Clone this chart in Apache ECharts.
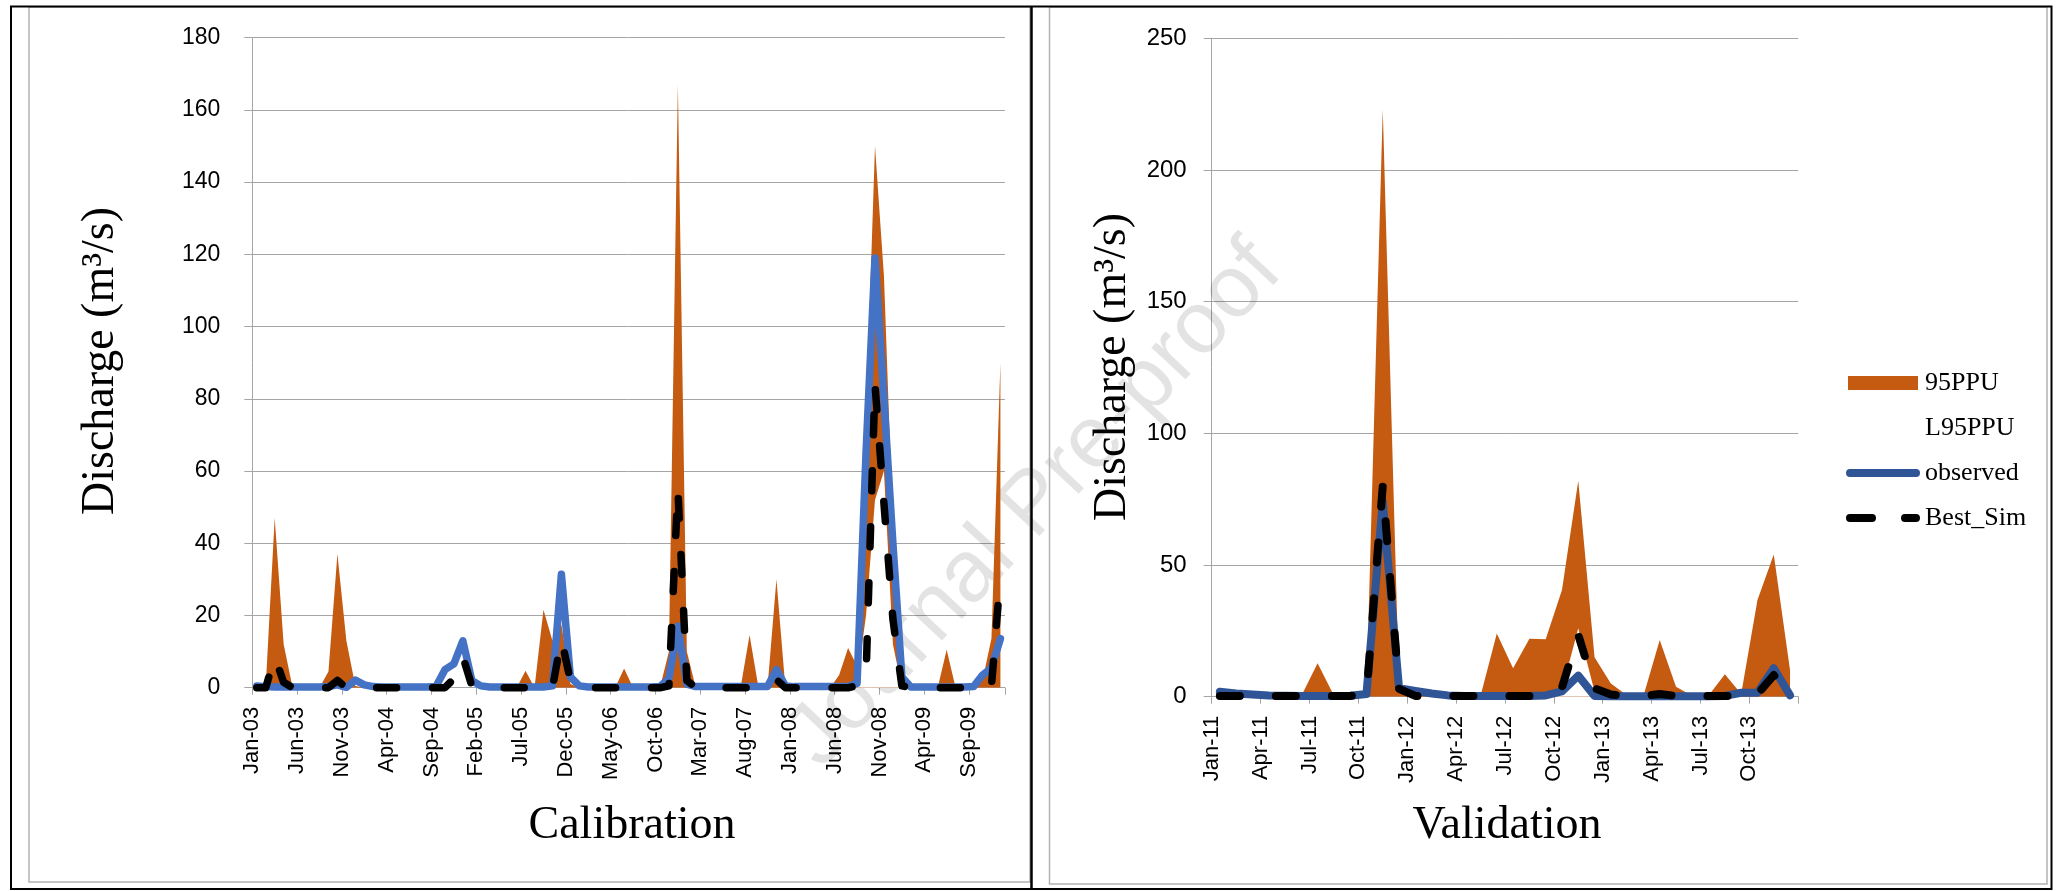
<!DOCTYPE html>
<html>
<head>
<meta charset="utf-8">
<script src="https://cdn.jsdelivr.net/npm/echarts@6/dist/echarts.min.js"></script>
<style>
  html, body { margin: 0; padding: 0; background: #ffffff; }
  #chart { width: 2060px; height: 891px; }
</style>
</head>
<body>
<div id="chart"></div>
<script>
// ---- Calibration period: monthly values, Jan-2003 .. Dec-2009 (84 months) ----
const calTickLabels = ['Jan-03','Jun-03','Nov-03','Apr-04','Sep-04','Feb-05','Jul-05','Dec-05','May-06',
  'Oct-06','Mar-07','Aug-07','Jan-08','Jun-08','Nov-08','Apr-09','Sep-09'];

const calU95 = [
  0, 0.5, 47, 12, 0, 0, 0, 0, 4.5, 37, 13, 0.5,          // 2003
  0, 0, 0, 0, 0, 0, 0, 0, 0, 0, 0, 0,                     // 2004
  0, 0, 0, 0, 0, 0, 4.7, 0, 21.6, 13, 17.5, 1,            // 2005
  0, 0, 0, 0, 0, 5.3, 0, 0, 0, 0, 10, 167,                // 2006
  10, 0, 0, 0, 0, 0, 0, 14.6, 0, 0, 30, 0,                // 2007
  0, 0, 0, 0, 0, 3.5, 11, 6, 75, 150, 114, 45,            // 2008
  2, 0, 0, 0, 0, 10.5, 0, 0, 0, 2, 13.6, 90               // 2009
];
const calL95 = [
  0, 0, 0, 0, 0, 0, 0, 0, 0, 0, 0, 0,
  0, 0, 0, 0, 0, 0, 0, 0, 0, 0, 0, 0,
  0, 0, 0, 0, 0, 0, 0, 0, 0, 0, 0, 0,
  0, 0, 0, 0, 0, 0, 0, 0, 0, 0, 0, 0,
  0, 0, 0, 0, 0, 0, 0, 0, 0, 0, 0, 0,
  0, 0, 0, 0, 0, 0, 0, 2, 20, 52, 60, 12,
  0, 0, 0, 0, 0, 0, 0, 0, 0, 0, 0, 0
];
const calObserved = [
  0.5, 0.3, 0.2, 0.2, 0.2, 0.2, 0.2, 0.2, 0.3, 0.8, 0.1, 2.1,
  0.8, 0.3, 0.2, 0.2, 0.2, 0.2, 0.2, 0.2, 0.3, 5, 6.6, 13,
  2, 0.5, 0.2, 0.2, 0.2, 0.2, 0.2, 0.2, 0.2, 0.5, 31.4, 3,
  0.5, 0.2, 0.2, 0.2, 0.2, 0.2, 0.2, 0.2, 0.2, 0.3, 2.5, 17,
  1, 0.3, 0.3, 0.3, 0.3, 0.3, 0.3, 0.3, 0.3, 0.3, 5, 0.5,
  0.3, 0.3, 0.3, 0.3, 0.3, 0.3, 0.3, 1.2, 65, 119, 80, 40,
  3, 0.2, 0.2, 0.2, 0.2, 0.2, 0.2, 0.2, 0.3, 3.5, 5.5, 13.6
];
const calBestSim = [
  0, 0, 8.6, 1.5, 0, 0, 0, 0, 0, 2, 0, 0,
  0, 0, 0, 0, 0, 0, 0, 0, 0, 0, 2.5, 8.6,
  0.5, 0, 0, 0, 0, 0, 0, 0, 0, 0, 13.5, 2,
  0, 0, 0, 0, 0, 0, 0, 0, 0, 0, 0.5, 55,
  2, 0, 0, 0, 0, 0, 0, 0, 0, 0, 2.2, 0,
  0, 0, 0, 0, 0, 0, 0, 0.5, 3, 84, 51, 19,
  0.5, 0, 0, 0, 0, 0, 0, 0, 0, 0, 0.5, 31
];

// ---- Validation period: monthly values, Jan-2011 .. Dec-2013 (36 months) ----
const valTickLabels = ['Jan-11','Apr-11','Jul-11','Oct-11','Jan-12','Apr-12','Jul-12','Oct-12',
  'Jan-13','Apr-13','Jul-13','Oct-13'];

const valU95 = [
  1, 0.5, 0.4, 0.3, 0.3, 0.3, 12.7, 0.5, 1.2, 2, 223, 4,
  2.5, 1.5, 0.5, 0.3, 0.3, 24, 10.8, 22, 21.8, 40.5, 82, 15,
  5, 0.5, 0.3, 21.5, 3.8, 0.3, 0.5, 8.5, 1, 36.7, 54, 10
];
const valL95 = [
  0, 0, 0, 0, 0, 0, 0, 0, 0, 0, 0, 0,
  0, 0, 0, 0, 0, 0, 0, 0, 0, 2.5, 26, 2,
  0, 0, 0, 0, 0, 0, 0, 0, 0, 0, 0, 0
];
const valObserved = [
  1.9, 1.2, 0.8, 0.5, 0.4, 0.3, 0.3, 0.3, 0.4, 1, 74, 3.2,
  2.2, 1.2, 0.5, 0.3, 0.3, 0.3, 0.3, 0.3, 0.5, 2, 8, 0.3,
  0.2, 0.2, 0.2, 0.3, 0.2, 0.2, 0.2, 0.3, 1.5, 1.5, 10.8, 0.5
];
const valBestSim = [
  0.3, 0.3, 0.3, 0.3, 0.3, 0.3, 0.3, 0.3, 0.3, 0.5, 80, 3,
  0.3, 0.3, 0.3, 0.3, 0.3, 0.3, 0.3, 0.3, 0.3, 3.5, 23.5, 3.2,
  0.8, 0.3, 0.3, 1, 0.3, 0.3, 0.3, 0.3, 0.3, 1, 8.2, 1
];

// ---- styling ----
const ORANGE = '#C55A11';
const BLUE_CAL = '#4472C4';
const BLUE_VAL = '#2F5597';
const GRID_GRAY = '#a5a5a5';
const SERIF = '"Liberation Serif", "Times New Roman", serif';
const SANS = '"Liberation Sans", Arial, sans-serif';

// legend glyphs: a thick rounded stroke and a two-dash stroke (the 0,0 / 0,14 points fix the box height)
const ICON_SOLID = 'path://M0,0L0.01,0ZM0,14L0.01,14ZM4,3L70,3A4,4 0 0 1 70,11L4,11A4,4 0 0 1 4,3Z';
const ICON_DASH = 'path://M0,0L0.01,0ZM0,14L0.01,14ZM4,3L26,3A4,4 0 0 1 26,11L4,11A4,4 0 0 1 4,3Z' +
                  'M59,3L70,3A4,4 0 0 1 70,11L59,11A4,4 0 0 1 59,3Z';

// each monthly value sits in the middle of its month on the date axis
const monthly = arr => arr.map((v, i) => [i + 0.5, v]);

function tickFormatter(labels, step) {
  return function (v) {
    const k = Math.round(v / step);
    return (Math.abs(v - k * step) < 1e-6 && k < labels.length) ? labels[k] : '';
  };
}

function xAxisFor(gridIndex, months, step, labels) {
  return {
    gridIndex: gridIndex, type: 'value', min: 0, max: months, interval: step,
    axisLine: { show: true, onZero: false, lineStyle: { color: GRID_GRAY, width: 1 } },
    axisTick: { show: true, inside: false, length: 7, lineStyle: { color: GRID_GRAY, width: 1 } },
    splitLine: { show: false },
    axisLabel: {
      rotate: 90, margin: 19, color: '#000', fontFamily: SANS, fontSize: 22,
      showMinLabel: true, showMaxLabel: true,
      formatter: tickFormatter(labels, step)
    }
  };
}

function yAxisFor(gridIndex, max, step, fontSize, margin) {
  return {
    gridIndex: gridIndex, type: 'value', min: 0, max: max, interval: step,
    axisLine: { show: true, lineStyle: { color: GRID_GRAY, width: 1 } },
    axisTick: { show: true, inside: false, length: 8, lineStyle: { color: GRID_GRAY, width: 1 } },
    splitLine: { show: true, lineStyle: { color: GRID_GRAY, width: 1 } },
    axisLabel: { margin: margin, color: '#000', fontFamily: SANS, fontSize: fontSize }
  };
}

function bandSeries(name, idx, data, color) {
  return {
    name: name, type: 'line', xAxisIndex: idx, yAxisIndex: idx,
    data: monthly(data), symbol: 'none', silent: true,
    lineStyle: { width: 0, color: color },
    itemStyle: { color: color },
    areaStyle: { color: color, opacity: 1 },
    emphasis: { disabled: true }
  };
}

function lineSeries(name, idx, data, color, width, dash) {
  return {
    name: name, type: 'line', xAxisIndex: idx, yAxisIndex: idx,
    data: monthly(data), symbol: 'none', silent: true, clip: false,
    itemStyle: { color: color },
    lineStyle: { color: color, width: width, type: dash || 'solid', cap: 'round', join: 'round' },
    emphasis: { disabled: true }
  };
}

const chart = echarts.init(document.getElementById('chart'), null, { renderer: 'canvas' });

chart.setOption({
  animation: false,
  backgroundColor: '#ffffff',
  grid: [
    { left: 252.3, top: 37.7, width: 752.6, height: 650, containLabel: false },
    { left: 1211.7, top: 38.2, width: 586.5, height: 658.5, containLabel: false }
  ],
  xAxis: [
    xAxisFor(0, 84, 5, calTickLabels),
    xAxisFor(1, 36, 3, valTickLabels)
  ],
  yAxis: [
    yAxisFor(0, 180, 20, 23, 32),
    yAxisFor(1, 250, 50, 24, 25)
  ],
  legend: {
    orient: 'vertical', left: 1841, top: 365,
    itemWidth: 74, itemHeight: 14, itemGap: 19,
    selectedMode: false,
    itemStyle: { borderWidth: 0 },
    textStyle: { fontFamily: SERIF, fontSize: 26, color: '#000' },
    data: [
      { name: '95PPU', icon: 'path://M0,0L70,0L70,14L0,14Z', itemStyle: { color: ORANGE, borderWidth: 0 } },
      { name: 'L95PPU', icon: 'rect', itemStyle: { color: '#ffffff', borderWidth: 0 } },
      { name: 'observed', icon: ICON_SOLID, itemStyle: { color: BLUE_VAL, borderWidth: 0 } },
      { name: 'Best_Sim', icon: ICON_DASH, itemStyle: { color: '#000000', borderWidth: 0 } }
    ]
  },
  series: [
    // Validation panel
    bandSeries('95PPU', 1, valU95, ORANGE),
    bandSeries('L95PPU', 1, valL95, '#ffffff'),
    lineSeries('observed', 1, valObserved, BLUE_VAL, 8),
    lineSeries('Best_Sim', 1, valBestSim, '#000000', 8, [20, 36]),
    // Calibration panel
    bandSeries('95PPU', 0, calU95, ORANGE),
    bandSeries('L95PPU', 0, calL95, '#ffffff'),
    lineSeries('observed', 0, calObserved, BLUE_CAL, 7.5),
    lineSeries('Best_Sim', 0, calBestSim, '#000000', 7.5, [20, 36])
  ],
  graphic: [
    // page frame and panel divider
    { type: 'rect', z: 10, silent: true,
      shape: { x: 11, y: 6.5, width: 2040.5, height: 882.5 },
      style: { fill: 'none', stroke: '#000', lineWidth: 2 } },
    { type: 'line', z: 10, silent: true,
      shape: { x1: 1031.5, y1: 6.5, x2: 1031.5, y2: 889 },
      style: { stroke: '#000', lineWidth: 2.5 } },
    // chart-area outlines
    { type: 'rect', z: 9, silent: true,
      shape: { x: 29, y: 7, width: 1001, height: 875 },
      style: { fill: 'none', stroke: '#b3b3b3', lineWidth: 1.5 } },
    { type: 'rect', z: 9, silent: true,
      shape: { x: 1049.5, y: 7, width: 997.5, height: 877 },
      style: { fill: 'none', stroke: '#b3b3b3', lineWidth: 1.5 } },
    // watermark
    { type: 'text', z: 1, silent: true, x: 1035, y: 505, rotation: 47 * Math.PI / 180,
      style: { text: 'Journal Pre-proof', font: '88px ' + SANS, fill: 'rgba(0,0,0,0.11)',
               align: 'center', verticalAlign: 'middle', textAlign: 'center', textVerticalAlign: 'middle' } },
    // axis titles
    { type: 'text', z: 5, silent: true, x: 101, y: 361, rotation: Math.PI / 2,
      style: { text: 'Discharge (m³/s)', font: '46px ' + SERIF, fill: '#000',
               align: 'center', verticalAlign: 'middle', textAlign: 'center', textVerticalAlign: 'middle' } },
    { type: 'text', z: 5, silent: true, x: 1113, y: 367, rotation: Math.PI / 2,
      style: { text: 'Discharge (m³/s)', font: '46px ' + SERIF, fill: '#000',
               align: 'center', verticalAlign: 'middle', textAlign: 'center', textVerticalAlign: 'middle' } },
    { type: 'text', z: 5, silent: true, x: 632, y: 826,
      style: { text: 'Calibration', font: '46px ' + SERIF, fill: '#000',
               align: 'center', verticalAlign: 'middle', textAlign: 'center', textVerticalAlign: 'middle' } },
    { type: 'text', z: 5, silent: true, x: 1507, y: 826,
      style: { text: 'Validation', font: '46px ' + SERIF, fill: '#000',
               align: 'center', verticalAlign: 'middle', textAlign: 'center', textVerticalAlign: 'middle' } }
  ]
});
</script>
</body>
</html>
